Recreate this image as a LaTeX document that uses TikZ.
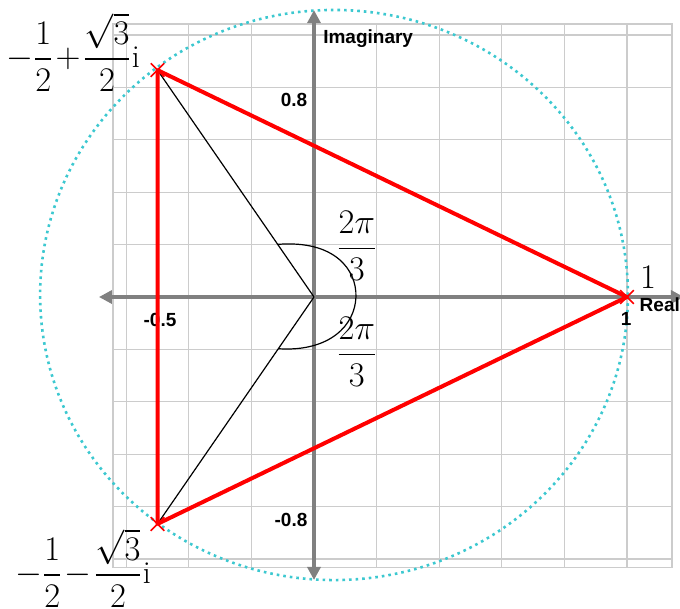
\documentclass[tikz,border=0pt]{standalone}
\usepackage{amsmath}
\usepackage{fontspec}
\newfontfamily\labelfont{Liberation Sans}
\usetikzlibrary{arrows.meta, calc, shapes.misc}
\definecolor{circlecyan}{RGB}{60,200,208}

\begin{document}
\begin{tikzpicture}[
        x=156.5pt, y=131pt,
        gridline/.style={
            draw=gray!40,
            line width=0.6pt
        },
        axis/.style={
            {Triangle[length=6.5pt,width=6.5pt]}-{Triangle[length=6.5pt,width=6.5pt]},
            draw=gray,
            line width=2pt
        },
        triangle/.style={
            draw=red,
            line width=2pt,
            line join=round
        },
        spoke/.style={draw=black, line width=0.6pt},
        vertexmark/.style={
            cross out, draw=red,
            line width=0.8pt,
            minimum size=6pt, inner sep=0pt
        },
        unitcircle/.style={
            draw=circlecyan,
            dotted,
            line width=1.3pt
        },
        ticklabel/.style={
            font=\labelfont\bfseries\fontsize{9.5}{11}\selectfont,
            inner sep=1pt
        },
        axislabel/.style={ticklabel, anchor=west},
        mathlabel/.style={
            font=\fontsize{16}{19}\selectfont,
            inner sep=0pt
        }
    ]

    \useasboundingbox (-1.0032,-1.1908) rectangle (1.1693,1.1336);

    % grid
    \foreach \k in {-3,...,5}
        \draw[gridline] (\k*0.2,-1.031) -- (\k*0.2,1.042);
    \foreach \k in {-5,...,5}
        \draw[gridline] (-0.642,\k*0.2) -- (1.144,\k*0.2);
    \draw[gridline] (-0.642,-1.031) rectangle (1.144,1.042);

    \coordinate (O) at (0,0);
    \coordinate (one) at (1,0);
    \coordinate (wup) at (-0.5,0.866);
    \coordinate (wdown) at (-0.5,-0.866);

    \coordinate (realleft) at (-0.687,0);
    \coordinate (realright) at (1.182,0);
    \coordinate (imagtop) at (0,1.095);
    \coordinate (imagbottom) at (0,-1.080);

    \draw[unitcircle] (0.064,0.0076) ellipse [x radius=0.939, y radius=1.088];

    \draw[axis] (realleft) -- (realright);
    \draw[axis] (imagbottom) -- (imagtop);

    \node[axislabel] (imaglabel) at (0.022,0.988) {Imaginary};
    \node[axislabel] (reallabel) at (1.033,-0.031) {Real};
    \node[ticklabel] (tickup) at (-0.064,0.752) {0.8};
    \node[ticklabel] (tickdown) at (-0.0735,-0.851) {-0.8};
    \node[ticklabel] (tickhalf) at (-0.492,-0.088) {-0.5};
    \node[ticklabel] (tickone) at (0.997,-0.084) {1};

    % angles
    \draw[spoke] (O) -- (wup);
    \draw[spoke] (O) -- (wdown);
    \coordinate (arcstart) at ($(O)!0.232!(wup)$);
    \coordinate (arcend) at ($(O)!0.228!(wdown)$);
    \draw[spoke] (arcstart) .. controls (0.067,0.218) and (0.137,0.103) .. (0.134,0)
        .. controls (0.131,-0.107) and (0.051,-0.210) .. (arcend);

    \draw[triangle] (one) -- (wup) -- (wdown) -- cycle;
    \foreach \v in {one, wup, wdown}
        \node[vertexmark] at (\v) {};

    \node[mathlabel] (lblup) at (-0.770,0.935) {$-\dfrac{1}{2}\!+\!\dfrac{\sqrt{3}}{2}\mathrm{i}$};
    \node[mathlabel] (lbldown) at (-0.738,-1.035) {$-\dfrac{1}{2}\!-\!\dfrac{\sqrt{3}}{2}\mathrm{i}$};
    \node[mathlabel] (lblone) at (1.067,0.076) {$1$};
    \node[mathlabel] (angup) at (0.137,0.195) {$\dfrac{2\pi}{3}$};
    \node[mathlabel] (angdown) at (0.137,-0.210) {$\dfrac{2\pi}{3}$};

\end{tikzpicture}
\end{document}
